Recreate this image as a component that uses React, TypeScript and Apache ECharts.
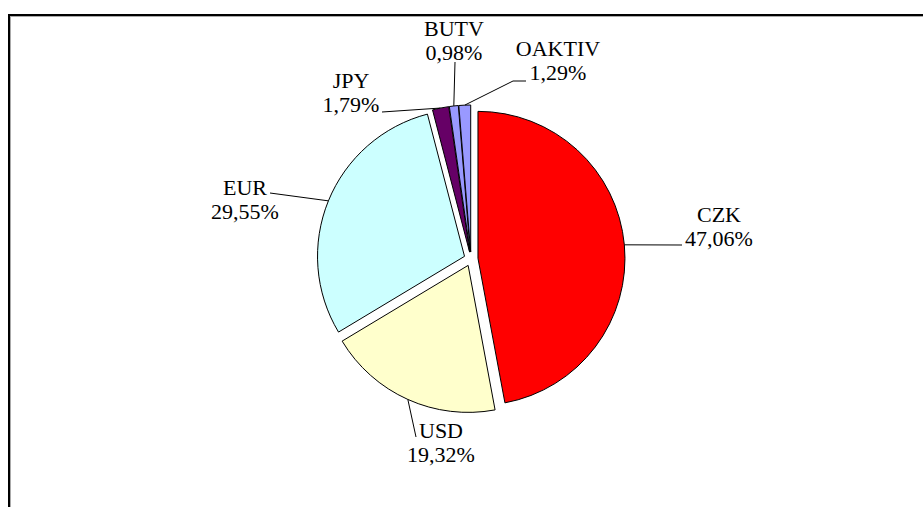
import React, { useEffect, useRef } from "react";
import * as echarts from "echarts";

const categories = ["CZK", "USD", "EUR", "JPY", "BUTV", "OAKTIV"];
const shares = [47.06, 19.32, 29.55, 1.79, 0.98, 1.29];
const sliceColors = ["#FF0000", "#FFFFCC", "#CCFFFF", "#660066", "#9999FF", "#9999FF"];

// layout / styling (not data)
const FONT_SHORTHAND = "22px 'Liberation Serif', 'DejaVu Serif', serif";
const PIE_CX = 471;
const PIE_CY = 259;
const PIE_R = 147;
const EXPLODE = 7;
// label block center (x, middle y) per category
const labelAnchors: [number, number][] = [
  [719, 226],
  [441, 442],
  [245, 199],
  [351, 92],
  [454, 40],
  [558, 60],
];
// where each leader line meets its label (after the point on the slice)
const leaderEnds: [number, number][][] = [
  [[682, 245]],
  [[416, 437]],
  [[270, 193]],
  [[382, 112]],
  [[455, 62]],
  [[513, 81], [526, 81]],
];

export default function App() {
  const ref = useRef<HTMLDivElement>(null);
  useEffect(() => {
    if (!ref.current) return;
    const chart = echarts.init(ref.current, undefined, { renderer: "svg" });
    const total = shares.reduce((a, b) => a + b, 0);
    const cum: number[] = [];
    shares.reduce((acc, v, i) => {
      cum[i] = acc;
      return acc + v;
    }, 0);
    // point on the exploded slice's outer arc, at the slice's middle angle
    const midPoint = (i: number): [number, number] => {
      const frac = (cum[i] + shares[i] / 2) / total;
      const th = frac * Math.PI * 2;
      const rr = PIE_R + EXPLODE;
      return [PIE_CX + rr * Math.sin(th), PIE_CY - rr * Math.cos(th)];
    };
    const labelText = (i: number) =>
      `${categories[i]}\n${shares[i].toFixed(2).replace(".", ",")}%`;

    const labelGraphics: any[] = [];
    categories.forEach((_, i) => {
      labelGraphics.push({
        type: "polyline",
        silent: true,
        shape: { points: [midPoint(i), ...leaderEnds[i]] },
        style: { stroke: "#000", lineWidth: 1, fill: null },
        z: 10,
      });
      labelGraphics.push({
        type: "text",
        silent: true,
        x: labelAnchors[i][0],
        y: labelAnchors[i][1],
        style: {
          text: labelText(i),
          font: FONT_SHORTHAND,
          lineHeight: 24,
          fill: "#000",
          align: "center",
          verticalAlign: "middle",
        },
        z: 10,
      });
    });

    chart.setOption({
      animation: false,
      backgroundColor: "#ffffff",
      graphic: [
        { type: "line", shape: { x1: 8, y1: 15, x2: 923, y2: 15 }, style: { stroke: "#000", lineWidth: 2 } },
        { type: "line", shape: { x1: 10, y1: 16.5, x2: 923, y2: 16.5 }, style: { stroke: "#aaa", lineWidth: 1 } },
        { type: "line", shape: { x1: 9, y1: 14, x2: 9, y2: 507 }, style: { stroke: "#000", lineWidth: 2 } },
        { type: "line", shape: { x1: 10.5, y1: 16, x2: 10.5, y2: 507 }, style: { stroke: "#aaa", lineWidth: 1 } },
        ...labelGraphics,
      ],
      series: [
        {
          type: "pie",
          center: [PIE_CX, PIE_CY],
          radius: PIE_R,
          startAngle: 90,
          clockwise: true,
          selectedMode: "multiple",
          selectedOffset: EXPLODE,
          avoidLabelOverlap: false,
          emphasis: { disabled: true },
          itemStyle: { borderColor: "#000", borderWidth: 1 },
          select: { itemStyle: { borderColor: "#000", borderWidth: 1 } },
          label: { show: false },
          labelLine: { show: false },
          data: categories.map((name, i) => ({
            name,
            value: shares[i],
            selected: true,
            itemStyle: { color: sliceColors[i] },
          })),
        },
      ],
    });
    return () => chart.dispose();
  }, []);
  return (
    <div
      ref={ref}
      style={{ position: "fixed", left: 0, top: 0, width: 923, height: 507 }}
    />
  );
}
